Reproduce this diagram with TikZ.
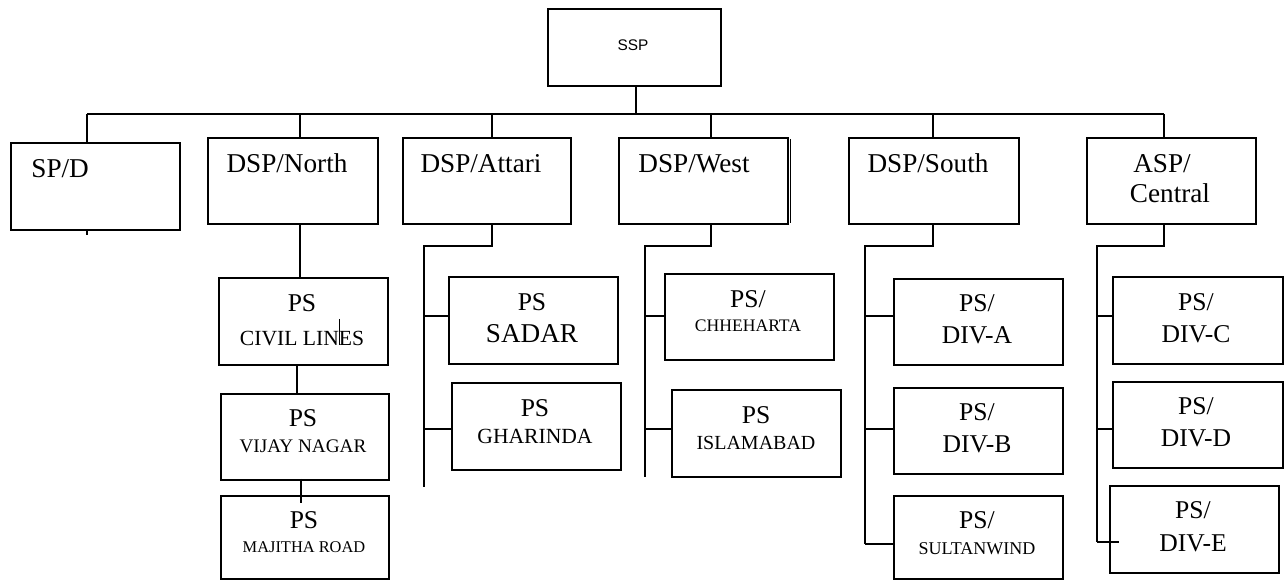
\documentclass[tikz,border=0pt]{standalone}
\usepackage{fontspec}
\setmainfont{Liberation Serif}
\newfontfamily\sspfont{Liberation Sans}

\begin{document}
\begin{tikzpicture}[x=0.5pt,y=-0.5pt,
    box/.style={draw, line width=0.9pt, inner sep=0pt, anchor=north west,
                minimum width=84.5pt, minimum height=43pt},
    link/.style={line width=0.6pt},
    txt/.style={anchor=base, inner sep=0pt, font=\fontsize{#1}{#1}\selectfont},
    txt/.default=13.6]
\useasboundingbox (0,0) rectangle (1287,581);

% top
\node[box, minimum width=86.5pt, minimum height=38.5pt] (ssp) at (547,8) {};
\node[anchor=base, inner sep=0pt, font=\sspfont\fontsize{7.7}{8}\selectfont] (tSsp) at (633,51) {SSP};

% first row
\node[box, minimum height=43.5pt] (spd) at (10,142) {};
\node[box, minimum width=85pt] (north) at (207,137) {};
\node[box, minimum width=84pt] (attari) at (402,137) {};
\node[box] (west) at (618,137) {};
\node[box, minimum width=85pt] (south) at (848,137) {};
\node[box] (asp) at (1086,137) {};

\node[txt, anchor=base west] (tSpd) at (31,178) {SP/D};
\node[txt] (tNorth) at (287,173) {DSP/North};
\node[txt] (tAttari) at (481,173) {DSP/Attari};
\node[txt] (tWest) at (694,173) {DSP/West};
\node[txt] (tSouth) at (928,173) {DSP/South};
\node[txt] (tAsp1) at (1162,173) {ASP/};
\node[txt] (tAsp2) at (1170,203) {Central};

% bus and drops
\coordinate (bus) at (636,114);
\coordinate (dSpd) at (87,114);
\coordinate (dNorth) at (300,114);
\coordinate (dAttari) at (492,114);
\coordinate (dWest) at (711,114);
\coordinate (dSouth) at (933,114);
\coordinate (dAsp) at (1164,114);

\draw[link] (bus |- ssp.south) -- (bus);
\draw[link] (dSpd) -- (dAsp);
\draw[link] (dSpd) -- (dSpd |- spd.north);
\draw[link] (dNorth) -- (dNorth |- north.north);
\draw[link] (dAttari) -- (dAttari |- attari.north);
\draw[link] (dWest) -- (dWest |- west.north);
\draw[link] (dSouth) -- (dSouth |- south.north);
\draw[link] (dAsp) -- (dAsp |- asp.north);
\draw[link] (dSpd |- spd.south) -- ++(0,4);
\draw[link] ([xshift=1pt,yshift=-1pt]west.north east) -- ([xshift=1pt,yshift=1pt]west.south east);

% DSP/North column
\node[box, minimum height=43.5pt] (civil) at (218,277) {};
\node[box, minimum width=84pt] (vijay) at (220,393) {};
\node[box, minimum width=84pt, minimum height=41.5pt] (majitha) at (220,495) {};

\node[txt=12.8] (tCivil1) at (302,312) {PS};
\node[txt=10.8] (tCivil2) at (302,346) {CIVIL LINES};
\node[txt=12.8] (tVijay1) at (303,427) {PS};
\node[txt=9.6] (tVijay2) at (303,453) {VIJAY NAGAR};
\node[txt=12.8] (tMajitha1) at (304,529) {PS};
\node[txt=8.2] (tMajitha2) at (304,553) {MAJITHA ROAD};

\draw[link] (dNorth |- north.south) -- (dNorth |- civil.north);
\draw[link] ([xshift=-3.25pt]civil.south) -- ([xshift=-3.25pt]civil.south |- vijay.north);
\draw[link] ([xshift=-2pt,yshift=1pt]vijay.south) -- ([xshift=-2pt,yshift=-4pt]majitha.north);
\draw[line width=0.4pt] (339,319) -- (339,345);

% DSP/Attari column
\node[box, minimum height=43.5pt] (sadar) at (448,276) {};
\node[box, minimum height=43.5pt] (gharinda) at (451,382) {};

\node[txt=12.8] (tSadar1) at (532,311) {PS};
\node[txt=13.6] (tSadar2) at (532,343) {SADAR};
\node[txt=12.8] (tGharinda1) at (535,417) {PS};
\node[txt=10.8] (tGharinda2) at (535,444) {GHARINDA};

\coordinate (kAttari) at (424,246);
\coordinate (eAttari) at (424,487);
\draw[link] (dAttari |- attari.south) -- (dAttari |- kAttari) -- (kAttari) -- (eAttari);
\draw[link] (kAttari |- 0,316) -- (sadar.west |- 0,316);
\draw[link] (kAttari |- 0,429) -- (gharinda.west |- 0,429);

% DSP/West column
\node[box] (chheharta) at (664,273) {};
\node[box, minimum height=43.5pt] (islamabad) at (671,389) {};

\node[txt=12.8] (tChheharta1) at (748,308) {PS/};
\node[txt=8.8] (tChheharta2) at (748,332) {CHHEHARTA};
\node[txt=12.8] (tIslamabad1) at (756,424) {PS};
\node[txt=10] (tIslamabad2) at (756,450) {ISLAMABAD};

\coordinate (kWest) at (645,246);
\coordinate (eWest) at (645,477);
\draw[link] (dWest |- west.south) -- (dWest |- kWest) -- (kWest) -- (eWest);
\draw[link] (kWest |- 0,316) -- (chheharta.west |- 0,316);
\draw[link] (kWest |- 0,429) -- (islamabad.west |- 0,429);

% DSP/South column
\node[box] (diva) at (893,278) {};
\node[box] (divb) at (893,387) {};
\node[box, minimum height=41.5pt] (sultan) at (893,495) {};

\node[txt=12.8] (tDivA1) at (977,312) {PS/};
\node[txt=12.8] (tDivA2) at (977,344) {DIV-A};
\node[txt=12.8] (tDivB1) at (977,421) {PS/};
\node[txt=12.8] (tDivB2) at (977,453) {DIV-B};
\node[txt=12.8] (tSultan1) at (977,529) {PS/};
\node[txt=9] (tSultan2) at (977,555) {SULTANWIND};

\coordinate (kSouth) at (865,246);
\coordinate (eSouth) at (865,544);
\draw[link] (dSouth |- south.south) -- (dSouth |- kSouth) -- (kSouth) -- (eSouth);
\draw[link] (kSouth |- 0,316) -- (diva.west |- 0,316);
\draw[link] (kSouth |- 0,429) -- (divb.west |- 0,429);
\draw[link] (eSouth) -- (sultan.west |- eSouth);

% ASP/Central column
\node[box, minimum width=85pt, minimum height=43.5pt] (divc) at (1112,276) {};
\node[box, minimum width=85pt] (divd) at (1112,381) {};
\node[box, minimum height=43.5pt] (dive) at (1109,485) {};

\node[txt=12.8] (tDivC1) at (1196,311) {PS/};
\node[txt=12.8] (tDivC2) at (1196,343) {DIV-C};
\node[txt=12.8] (tDivD1) at (1196,415) {PS/};
\node[txt=12.8] (tDivD2) at (1196,447) {DIV-D};
\node[txt=12.8] (tDivE1) at (1193,519) {PS/};
\node[txt=12.8] (tDivE2) at (1193,552) {DIV-E};

\coordinate (kAsp) at (1097,246);
\coordinate (eAsp) at (1097,542);
\draw[link] (dAsp |- asp.south) -- (dAsp |- kAsp) -- (kAsp) -- (eAsp);
\draw[link] (kAsp |- 0,316) -- (divc.west |- 0,316);
\draw[link] (kAsp |- 0,429) -- (divd.west |- 0,429);
\draw[link] (eAsp) -- ([xshift=5pt]dive.west |- eAsp);
\end{tikzpicture}
\end{document}
